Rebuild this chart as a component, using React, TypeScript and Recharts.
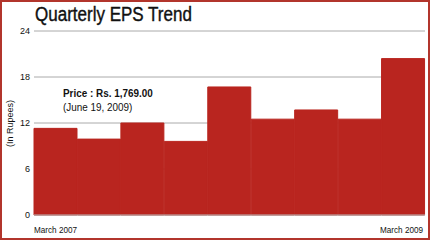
import { BarChart, Bar, XAxis, YAxis, CartesianGrid } from 'recharts'

const quarters = [
  'March 2007', 'June 2007', 'September 2007', 'December 2007',
  'March 2008', 'June 2008', 'September 2008', 'December 2008', 'March 2009',
]
const eps = [11.3, 9.9, 12.0, 9.6, 16.7, 12.5, 13.7, 12.5, 20.4]
const yTicks = [0, 6, 12, 18, 24]

const data = quarters.map((q, i) => ({ quarter: q, eps: eps[i] }))

const W = 430
const H = 240
const PLOT_LEFT = 34
const PLOT_RIGHT = 5
const HALF_BAND = (W - PLOT_LEFT - PLOT_RIGHT) / quarters.length / 2
const FONT = "'Liberation Sans', Arial, sans-serif"
const BAR = '#b9251f'

function XTick(props: any) {
  const { x, y, payload, index } = props
  const last = index === quarters.length - 1
  if (index !== 0 && !last) return null
  return (
    <text
      x={last ? x + HALF_BAND - 2 : x - HALF_BAND}
      y={y + 10}
      textAnchor={last ? 'end' : 'start'}
      fontSize={9.5}
      fontFamily={FONT}
      fill="#111"
      textLength={43}
      lengthAdjust="spacingAndGlyphs"
    >
      {payload.value}
    </text>
  )
}

export default function App() {
  return (
    <div style={{ position: 'fixed', left: 0, top: 0, width: W, height: H, background: '#fff', fontFamily: FONT }}>
      <BarChart width={W} height={H} data={data} barCategoryGap={0}
        margin={{ top: 31, right: PLOT_RIGHT, left: 0, bottom: 0 }}>
        <CartesianGrid vertical={false} stroke="#aaaaaa" />
        <XAxis dataKey="quarter" height={25} interval={0} tickLine={false}
          axisLine={{ stroke: '#bbbbbb' }} tick={<XTick />} />
        <YAxis width={PLOT_LEFT} domain={[0, 24]} ticks={yTicks} axisLine={false} tickLine={false}
          tickSize={2} tickMargin={2}
          tick={{ fill: '#111', fontSize: 9, fontFamily: FONT }}
          label={{ value: '(In Rupees)', angle: -90, position: 'insideLeft', dx: 5, dy: 24,
            style: { fontSize: 9, fontFamily: FONT, fill: '#111' } }} />
        <Bar dataKey="eps" fill={BAR} stroke={BAR} strokeWidth={1} isAnimationActive={false} />
      </BarChart>

      <div style={{ position: 'absolute', left: 35, top: 2, fontSize: 20, color: '#111', lineHeight: '24px',
        transform: 'scaleX(0.85)', transformOrigin: 'left top', whiteSpace: 'nowrap',
        WebkitTextStroke: '0.4px #111' }}>
        Quarterly EPS Trend
      </div>
      <div style={{ position: 'absolute', left: 63, top: 86, fontSize: 11, lineHeight: '14px', color: '#111',
        transform: 'scaleX(0.9)', transformOrigin: 'left top', whiteSpace: 'nowrap' }}>
        <div style={{ fontWeight: 'bold' }}>Price : Rs. 1,769.00</div>
        <div>(June 19, 2009)</div>
      </div>
      <div style={{ position: 'absolute', left: 0, top: 0, width: W, height: H, boxSizing: 'border-box',
        border: '2px solid #b2352c', pointerEvents: 'none' }} />
    </div>
  )
}
